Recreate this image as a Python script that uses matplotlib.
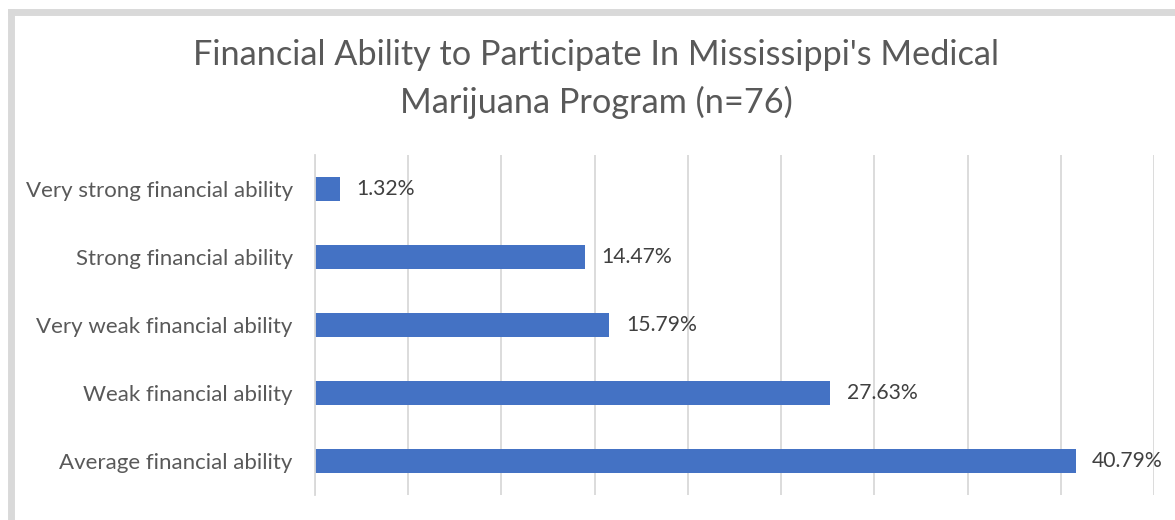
import matplotlib.pyplot as plt
from matplotlib.lines import Line2D

# Respuestas de la encuesta (n=76), de abajo hacia arriba
categorias = ['Average financial ability', 'Weak financial ability',
              'Very weak financial ability', 'Strong financial ability',
              'Very strong financial ability']
porcentajes = [40.79, 27.63, 15.79, 14.47, 1.32]
marcas_x = [0, 5, 10, 15, 20, 25, 30, 35, 40, 45]
titulo = ["Financial Ability to Participate In Mississippi's Medical",
          "Marijuana Program (n=76)"]

plt.rcParams['font.family'] = ['Lato', 'DejaVu Sans']
gris_texto = '#595959'
gris_borde = '#D9D9D9'

fig = plt.figure(figsize=(11.75, 5.2), dpi=100)
ax = fig.add_axes([315 / 1175, 1 - 495 / 520, (1154 - 315) / 1175, (495 - 155) / 520])

ax.barh(range(len(categorias)), porcentajes, height=0.35, color='#4472C4', zorder=2)
for i, v in enumerate(porcentajes):
    ax.annotate(f'{v:.2f}%', xy=(v, i), xytext=(12, 0), textcoords='offset points',
                ha='left', va='center', fontsize=15.2, color='#404040')

ax.set_xlim(0, 45)
ax.set_ylim(-0.5, len(categorias) - 0.5)
ax.set_xticks(marcas_x)
ax.set_xticklabels([])
ax.set_yticks(range(len(categorias)))
ax.set_yticklabels(categorias, fontsize=16, color=gris_texto)
ax.tick_params(axis='both', length=0)
ax.tick_params(axis='y', pad=16)
ax.grid(axis='x', color=gris_borde, linewidth=1.3, zorder=0)
ax.spines[['top', 'right', 'bottom']].set_visible(False)
ax.spines['left'].set_color(gris_borde)
ax.spines['left'].set_linewidth(1.3)

# Título en dos líneas, centrado sobre el gráfico
fig.text(596 / 1175, 1 - 65 / 520, titulo[0], ha='center', va='baseline',
         fontsize=24.7, color=gris_texto)
fig.text(596 / 1175, 1 - 113 / 520, titulo[1], ha='center', va='baseline',
         fontsize=24.7, color=gris_texto)

# Marco gris del área del gráfico
fig.add_artist(Line2D([10.5 / 1175, 1.0], [1 - 11.5 / 520] * 2, color=gris_borde, linewidth=5))
fig.add_artist(Line2D([10.5 / 1175] * 2, [0.0, 1 - 11.5 / 520], color=gris_borde, linewidth=5))

fig.savefig('out.png', dpi=100)
